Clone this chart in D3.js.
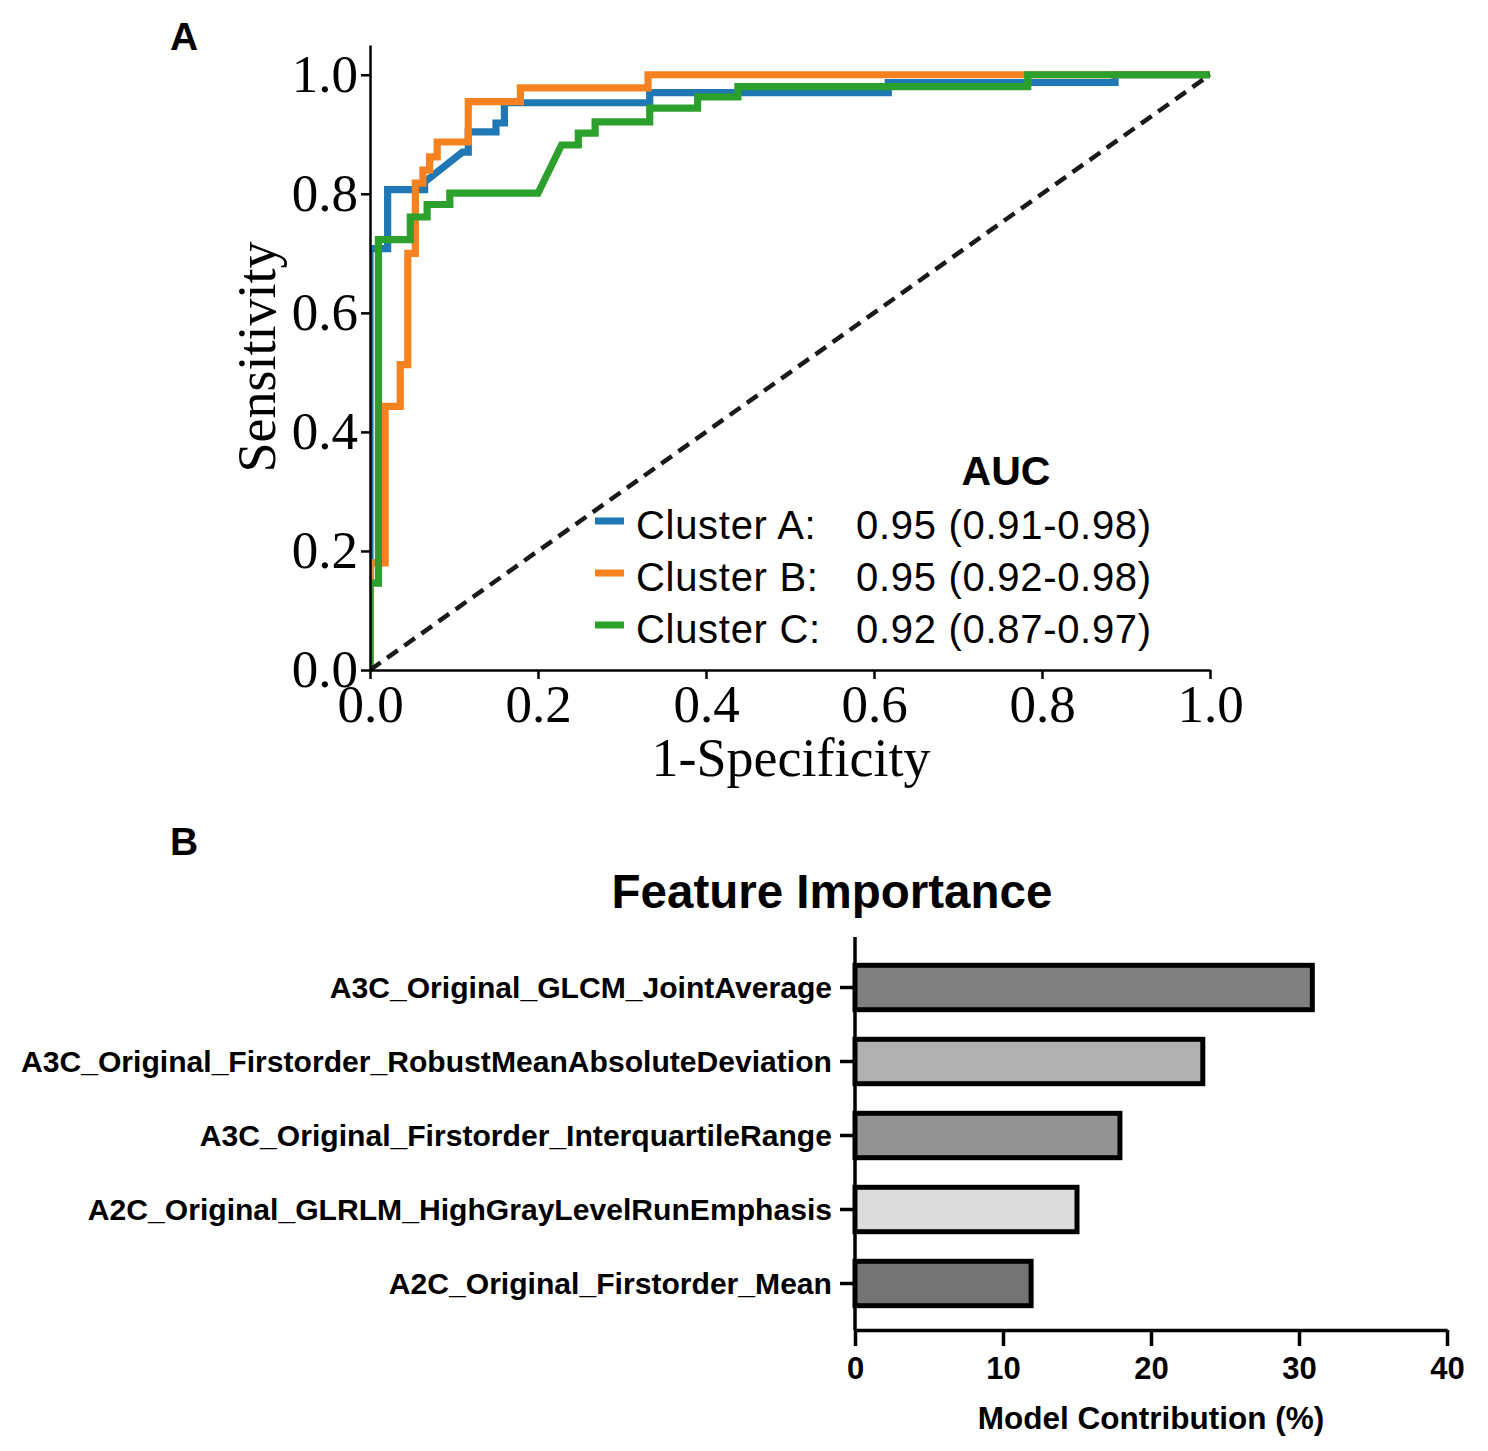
<!DOCTYPE html>
<html><head><meta charset="utf-8">
<script src="https://cdn.jsdelivr.net/npm/d3@7"></script>
<style>body{margin:0;background:#fff}svg{display:block}</style>
</head><body>
<script>
// ---- ROC data (1-specificity, sensitivity) ----
const clusterNames = ["Cluster A:", "Cluster B:", "Cluster C:"];
const aucLabels = ["0.95 (0.91-0.98)", "0.95 (0.92-0.98)", "0.92 (0.87-0.97)"];
const rocColors = ["#1f77b4", "#f5821f", "#2ca02c"];
const fprA = [0,0,0.021,0.021,0.065,0.065,0.11,0.117,0.117,0.15,0.15,0.16,0.16,0.333,0.333,0.617,0.617,0.887,0.887,1];
const tprA = [0,0.708,0.708,0.807,0.807,0.82,0.87,0.87,0.904,0.904,0.919,0.919,0.953,0.953,0.97,0.97,0.987,0.987,1,1];
const fprB = [0,0,0.018,0.018,0.036,0.036,0.045,0.045,0.054,0.054,0.063,0.063,0.071,0.071,0.08,0.08,0.117,0.117,0.179,0.179,0.331,0.331,1];
const tprB = [0,0.18,0.18,0.443,0.443,0.513,0.513,0.70,0.70,0.818,0.818,0.84,0.84,0.862,0.862,0.887,0.887,0.955,0.955,0.978,0.978,1,1];
const fprC = [0,0,0.01,0.01,0.048,0.048,0.068,0.068,0.095,0.095,0.2,0.228,0.248,0.248,0.268,0.268,0.333,0.333,0.39,0.39,0.438,0.438,0.783,0.783,1];
const tprC = [0,0.146,0.146,0.723,0.723,0.761,0.761,0.782,0.782,0.801,0.801,0.882,0.882,0.902,0.902,0.921,0.921,0.944,0.944,0.963,0.963,0.98,0.98,1,1];
const rocTicks = [0, 0.2, 0.4, 0.6, 0.8, 1.0];

// ---- Feature importance data ----
const features = ["A3C_Original_GLCM_JointAverage","A3C_Original_Firstorder_RobustMeanAbsoluteDeviation","A3C_Original_Firstorder_InterquartileRange","A2C_Original_GLRLM_HighGrayLevelRunEmphasis","A2C_Original_Firstorder_Mean"];
const contributions = [30.9, 23.5, 17.9, 15.0, 11.9];
const barFills = ["#808080","#b0b0b0","#939393","#dcdcdc","#747474"];
const barTicks = [0, 10, 20, 30, 40];

const W = 1488, H = 1451;
const svg = d3.select("body").append("svg").attr("width", W).attr("height", H);
const sans = "'Liberation Sans', Arial, sans-serif";
const serif = "'Liberation Serif', 'Times New Roman', serif";

// ================= Panel A =================
svg.append("text").attr("x", 170).attr("y", 50).text("A")
  .attr("font-family", sans).attr("font-weight", "bold").attr("font-size", 39);

const x = d3.scaleLinear().domain([0, 1]).range([370, 1210]);
const y = d3.scaleLinear().domain([0, 1.05]).range([670, 45]);

svg.append("defs").append("clipPath").attr("id", "clipA")
  .append("rect").attr("x", 370).attr("y", 30).attr("width", 860).attr("height", 640);

const gLines = svg.append("g").attr("clip-path", "url(#clipA)");
const line = d3.line().x(d => x(d[0])).y(d => y(d[1]));
const series = [d3.zip(fprA, tprA), d3.zip(fprB, tprB), d3.zip(fprC, tprC)];
series.forEach((s, i) => {
  gLines.append("path").attr("d", line(s)).attr("fill", "none")
    .attr("stroke", rocColors[i]).attr("stroke-width", 7.2)
    .attr("stroke-linejoin", "miter");
});
gLines.append("path").attr("d", line([[0, 0], [1, 1]])).attr("fill", "none")
  .attr("stroke", "#1a1a1a").attr("stroke-width", 4.5).attr("stroke-dasharray", "13,8");

const xAxis = svg.append("g").attr("transform", "translate(0,670)")
  .call(d3.axisBottom(x).tickValues(rocTicks).tickFormat(d3.format(".1f")).tickSize(9).tickSizeOuter(0));
const yAxis = svg.append("g").attr("transform", "translate(370,0)")
  .call(d3.axisLeft(y).tickValues(rocTicks).tickFormat(d3.format(".1f")).tickSize(9).tickSizeOuter(0));
[xAxis, yAxis].forEach(g => {
  g.select(".domain").attr("stroke", "#000").attr("stroke-width", 2.5);
  g.selectAll(".tick line").attr("stroke", "#000").attr("stroke-width", 2.5);
  g.selectAll(".tick text").attr("font-family", serif).attr("font-size", 53).attr("fill", "#000");
});
xAxis.selectAll(".tick text").attr("dy", "0.71em").attr("y", 14);
yAxis.selectAll(".tick text").attr("x", -12);

svg.append("text").attr("x", 791).attr("y", 776).attr("text-anchor", "middle")
  .attr("font-family", serif).attr("font-size", 54).text("1-Specificity");
svg.append("text").attr("transform", "translate(275,357) rotate(-90)").attr("text-anchor", "middle")
  .attr("font-family", serif).attr("font-size", 54).text("Sensitivity");

// Legend
svg.append("text").attr("x", 1006).attr("y", 485).attr("text-anchor", "middle")
  .attr("font-family", sans).attr("font-weight", "bold").attr("font-size", 41).text("AUC");
clusterNames.forEach((n, i) => {
  const cy = 525 + i * 52;
  svg.append("line").attr("x1", 595).attr("x2", 624).attr("y1", cy - 4).attr("y2", cy - 4)
    .attr("stroke", rocColors[i]).attr("stroke-width", 7);
  svg.append("text").attr("x", 636).attr("y", cy + 14).attr("font-family", sans)
    .attr("font-size", 40).attr("letter-spacing", 0.7).text(n);
  svg.append("text").attr("x", 856).attr("y", cy + 14).attr("font-family", sans)
    .attr("font-size", 40).attr("letter-spacing", 0.7).text(aucLabels[i]);
});

// ================= Panel B =================
svg.append("text").attr("x", 170).attr("y", 855).text("B")
  .attr("font-family", sans).attr("font-weight", "bold").attr("font-size", 39);
svg.append("text").attr("x", 832).attr("y", 908).attr("text-anchor", "middle")
  .attr("font-family", sans).attr("font-weight", "bold").attr("font-size", 47.5).text("Feature Importance");

const bx = d3.scaleLinear().domain([0, 40]).range([855, 1447]);
const by = d3.scaleBand().domain(features).range([950.5, 1320.5]).paddingInner(0.4).paddingOuter(0.2);

svg.append("g").selectAll("rect").data(features).join("rect")
  .attr("x", bx(0)).attr("y", d => by(d))
  .attr("width", (d, i) => bx(contributions[i]) - bx(0))
  .attr("height", by.bandwidth())
  .attr("fill", (d, i) => barFills[i]).attr("stroke", "#000").attr("stroke-width", 5);

const bxAxis = svg.append("g").attr("transform", "translate(0,1330)")
  .call(d3.axisBottom(bx).tickValues(barTicks).tickSize(16).tickSizeOuter(0));
const byAxis = svg.append("g").attr("transform", "translate(855,0)")
  .call(d3.axisLeft(by).tickSize(15).tickSizeOuter(0));
byAxis.select(".domain").attr("d", "M0,937V1330");
[bxAxis, byAxis].forEach(g => {
  g.select(".domain").attr("stroke", "#000").attr("stroke-width", 3.5);
  g.selectAll(".tick line").attr("stroke", "#000").attr("stroke-width", 3.5);
  g.selectAll(".tick text").attr("font-family", sans).attr("font-weight", "bold").attr("fill", "#000");
});
bxAxis.selectAll(".tick text").attr("font-size", 31).attr("y", 27).attr("dy", "0.71em");
byAxis.selectAll(".tick text").attr("font-size", 30.1).attr("x", -23).attr("dy", "0.35em");

svg.append("text").attr("x", 1151).attr("y", 1429).attr("text-anchor", "middle")
  .attr("font-family", sans).attr("font-weight", "bold").attr("font-size", 31.5).text("Model Contribution (%)");
</script>
</body></html>
